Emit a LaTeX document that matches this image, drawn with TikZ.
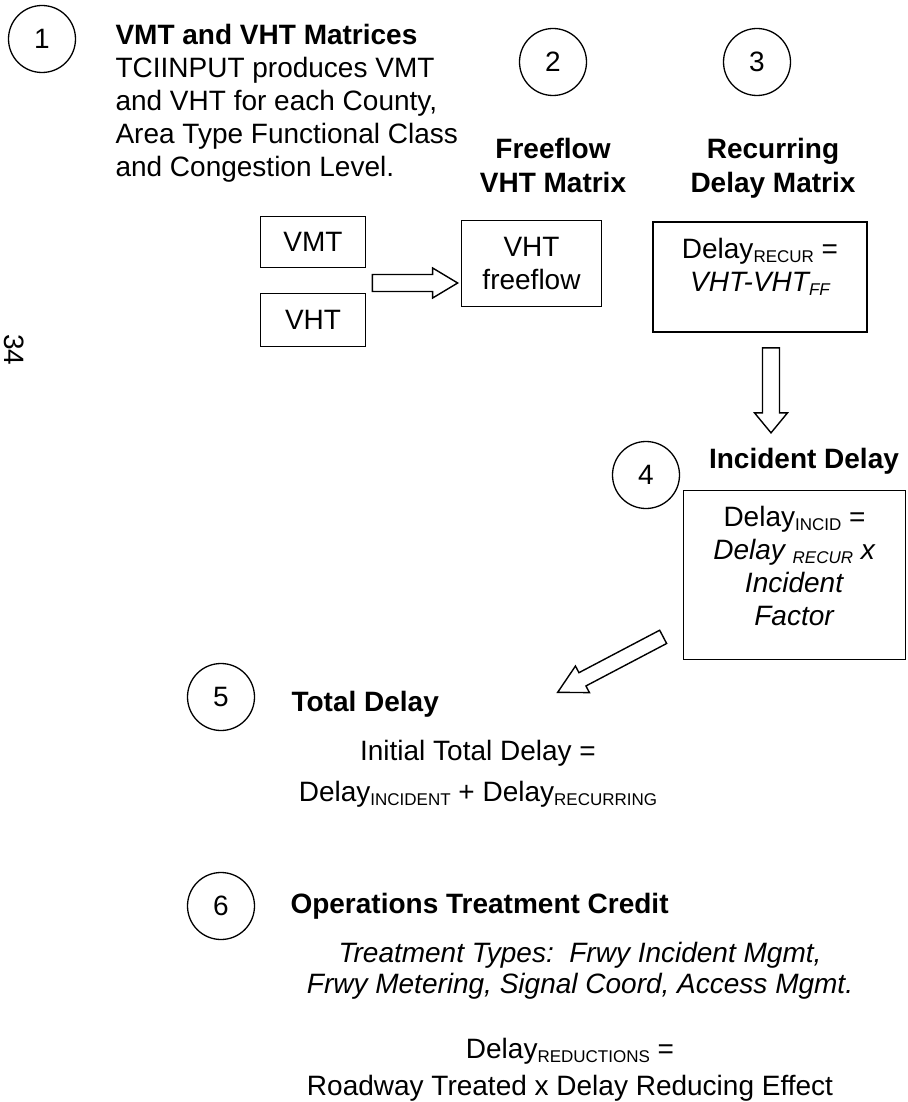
\documentclass[tikz,border=0pt]{standalone}
\usepackage{fontspec}
\setmainfont{Liberation Sans}
\usetikzlibrary{calc}
\newcommand{\lo}[1]{\raisebox{-4pt}{\fontsize{17}{17}\selectfont #1}}
% hollow block arrow: tail, tip, head length, half shaft, half head
\newcommand{\hollowarrow}[5]{%
  \coordinate (p) at #1; \coordinate (q) at #2;
  \coordinate (r) at ($(q)!#3!(p)$);
  \draw[line width=1.4pt,line join=miter,fill=white]
    ($(p)!#4!90:(q)$) -- ($(r)!#4!90:(q)$) -- ($(r)!#5!90:(q)$) -- (q)
    -- ($(r)!#5!-90:(q)$) -- ($(r)!#4!-90:(q)$) -- ($(p)!#4!-90:(q)$) -- cycle;}
\begin{document}
\begin{tikzpicture}[x=1pt,y=-1pt,font=\fontsize{28}{33}\selectfont]
\useasboundingbox (0,0) rectangle (907,1102);
\tikzstyle{num}=[circle,draw,line width=1.3pt,minimum size=67pt,inner sep=0pt]
\tikzstyle{box}=[draw,line width=1.7pt,inner sep=0pt,align=center]
\tikzstyle{head}=[font=\fontsize{28}{34}\selectfont\bfseries,align=center,anchor=base]
\draw
node[num](N1)at(42,39){1}
node[num](N2)at(553,62){2}
node[num](N3)at(757,62){3}
node[num](N4)at(646,475){4}
node[num](N5)at(221,697){5}
node[num](N6)at(221,906){6};

\draw
node[box,minimum width=105pt,minimum height=51pt](A)at(313,242){VMT}
node[box,minimum width=105pt,minimum height=53pt](B)at(313,320){VHT}
node[box,minimum width=140pt,minimum height=86pt](C)at(531.5,263.5){VHT\\freeflow}
node[box](D)at(760,277){\parbox[c][110pt][t]{214pt}{\centering\rule{0pt}{36pt}Delay\lo{RECUR} =\\\textit{VHT-VHT\lo{FF}}}}
node[box](E)at(794.5,575){\parbox[c][169pt][t]{222pt}{\centering\rule{0pt}{36pt}Delay\lo{INCID} =\\\textit{Delay \lo{RECUR} x}\\\textit{Incident}\\\textit{Factor}}};

% multi-line nodes sit on their last baseline
\draw
node[anchor=base west,align=left](T1)at(112,177){\textbf{VMT and VHT Matrices}\\TCIINPUT produces VMT\\and VHT for each County,\\Area Type Functional Class\\and Congestion Level.}
node[head](T2)at(553,193){Freeflow\\VHT Matrix}
node[head](T3)at(773,193){Recurring\\Delay Matrix}
node[head](T4)at(804,468){Incident Delay}
node[head,anchor=base west](T5)at(288,711){Total Delay}
node[head,anchor=base west](T6)at(287,913){Operations Treatment Credit}
node[anchor=base,align=center](S5)at(478,801){Initial Total Delay =\\[8pt]Delay\lo{INCIDENT} + Delay\lo{RECURRING}}
node[anchor=base,align=center,font=\fontsize{28}{31}\selectfont\itshape](S6)at(580,993){Treatment Types:\ \ Frwy Incident Mgmt,\\Frwy Metering, Signal Coord, Access Mgmt.}
node[anchor=base,align=center](S7)at(570,1095){Delay\lo{REDUCTIONS} =\\[4pt]Roadway Treated x Delay Reducing Effect}
node[rotate=-90](P)at(14,350){34};

\hollowarrow{($(A.east)!0.5!(B.east)+(6,2)$)}{($(p -| C.west)+(-3,0)$)}{25pt}{8.5pt}{15pt}
\hollowarrow{($(D.south)+(11,15)$)}{($(p)+(0,85)$)}{20pt}{8.5pt}{16.5pt}
\hollowarrow{($(E.south west)+(-19.5,-23.5)$)}{($(p)+(-105.5,55.5)$)}{28pt}{7.5pt}{15pt}
\end{tikzpicture}
\end{document}
